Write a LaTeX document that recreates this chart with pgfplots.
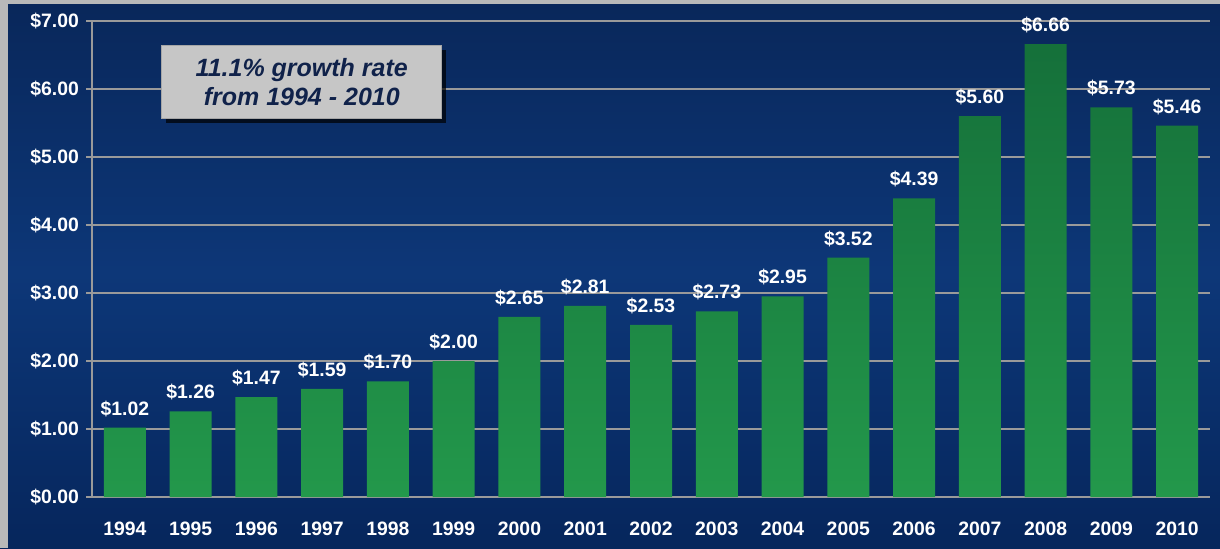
\documentclass[border=0pt]{standalone}
\usepackage{pgfplots}
\pgfplotsset{compat=1.18}
\usepackage{fontspec}
\setmainfont{Liberation Sans}
\usetikzlibrary{shadows}
\definecolor{navytop}{HTML}{09275A}
\definecolor{navymid}{HTML}{0D3778}
\definecolor{navybot}{HTML}{06265C}
\definecolor{bartop}{HTML}{15703A}
\definecolor{barbot}{HTML}{23984B}
\definecolor{gridgray}{HTML}{9A9A9A}
\definecolor{boxtext}{HTML}{10224A}

\begin{document}
\begin{tikzpicture}
% background panel (1220x548 px at 0.5pt per px)
\shade[top color=navytop, bottom color=navybot, middle color=navymid] (0,0) rectangle (610pt,274pt);
\fill[gray!55] (0,0) rectangle (4pt,274pt);
\fill[gray!55] (0,272pt) rectangle (610pt,274pt);
\begin{axis}[
    at={(46pt,25.5pt)}, anchor=south west,
    scale only axis,
    width=559pt, height=238pt,
    xmin=-0.5, xmax=16.5,
    ymin=0, ymax=7,
    ybar, bar width=21pt, bar shift=0pt,
    xtick={0,...,16},
    xticklabels={1994,1995,1996,1997,1998,1999,2000,2001,2002,2003,2004,2005,2006,2007,2008,2009,2010},
    ytick={0,1,...,7},
    /pgf/number format/assume math mode=true,
    yticklabel={\$\pgfmathprintnumber[fixed,fixed zerofill,precision=2]{\tick}},
    tick label style={font=\bfseries\fontsize{9.7}{11}\selectfont, text=white},
    xticklabel style={yshift=-6pt},
    xtick style={draw=none},
    ytick style={draw=gridgray, line width=1pt},
    tick align=outside, major tick length=3pt,
    axis lines*=left,
    axis line style={draw=gridgray, line width=1pt, -},
    ymajorgrids, grid style={draw=gridgray, line width=1pt},
    nodes near coords={\$\pgfmathprintnumber[fixed,fixed zerofill,precision=2]{\pgfplotspointmeta}},
    every node near coord/.append style={font=\bfseries\fontsize{9.7}{11}\selectfont, text=white, yshift=2pt},
    clip=false,
]
\addplot[draw=none, top color=bartop, bottom color=barbot] coordinates {
    (0,1.02) (1,1.26) (2,1.47) (3,1.59) (4,1.70) (5,2.00) (6,2.65) (7,2.81) (8,2.53)
    (9,2.73) (10,2.95) (11,3.52) (12,4.39) (13,5.60) (14,6.66) (15,5.73) (16,5.46)
};
\node[fill=gray!45, draw=gray!70, line width=0.5pt, minimum width=140pt, minimum height=36.5pt,
      drop shadow={shadow xshift=2pt, shadow yshift=-2pt, fill=black, opacity=0.7},
      align=center, text=boxtext, font=\bfseries\itshape\fontsize{12.5}{14.5}\selectfont]
    at (axis cs:2.69,6.10) {11.1\% growth rate\\from 1994 - 2010};
\end{axis}
\end{tikzpicture}
\end{document}
